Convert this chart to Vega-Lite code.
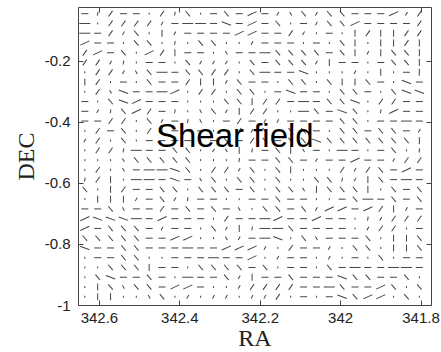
{
"$schema":"https://vega.github.io/schema/vega-lite/v6.json",
"width":353,"height":298,
"autosize":{"type":"none"},
"padding":{"left":78,"top":7,"right":10,"bottom":47},
"config":{"view":{"stroke":"#444","strokeWidth":1},"axis":{"grid":false,"domain":false,"tickColor":"#444","tickSize":-5,"labelFont":"Liberation Sans","labelFontSize":15,"labelColor":"#222","labelPadding":13,"titleFont":"Liberation Serif","titleFontSize":24,"titleFontWeight":"normal","titleColor":"#222"}},
"layer":[
{"data":{"values":[
{"ra":342.635,"dec":-0.045,"phi":0,"g":0.07},{"ra":342.603,"dec":-0.045,"phi":80,"g":0.04},{"ra":342.571,"dec":-0.045,"phi":55,"g":0.07},{"ra":342.539,"dec":-0.045,"phi":0,"g":0.07},{"ra":342.507,"dec":-0.045,"phi":0,"g":0.07},{"ra":342.475,"dec":-0.045,"phi":90,"g":0.02},{"ra":342.443,"dec":-0.045,"phi":55,"g":0.07},{"ra":342.411,"dec":-0.045,"phi":80,"g":0.04},{"ra":342.379,"dec":-0.045,"phi":130,"g":0.07},{"ra":342.347,"dec":-0.045,"phi":90,"g":0.02},{"ra":342.315,"dec":-0.045,"phi":0,"g":0.07},{"ra":342.283,"dec":-0.045,"phi":130,"g":0.07},{"ra":342.251,"dec":-0.045,"phi":0,"g":0.07},{"ra":342.219,"dec":-0.045,"phi":25,"g":0.1},{"ra":342.187,"dec":-0.045,"phi":0,"g":0.07},{"ra":342.155,"dec":-0.045,"phi":60,"g":0.04},{"ra":342.123,"dec":-0.045,"phi":120,"g":0.04},{"ra":342.091,"dec":-0.045,"phi":130,"g":0.07},{"ra":342.059,"dec":-0.045,"phi":60,"g":0.04},{"ra":342.027,"dec":-0.045,"phi":130,"g":0.07},{"ra":341.995,"dec":-0.045,"phi":130,"g":0.07},{"ra":341.963,"dec":-0.045,"phi":0,"g":0.07},{"ra":341.931,"dec":-0.045,"phi":0,"g":0.07},{"ra":341.899,"dec":-0.045,"phi":0,"g":0.07},{"ra":341.867,"dec":-0.045,"phi":25,"g":0.1},{"ra":341.835,"dec":-0.045,"phi":60,"g":0.04},{"ra":341.803,"dec":-0.045,"phi":55,"g":0.07},
{"ra":342.635,"dec":-0.077,"phi":0,"g":0.11},{"ra":342.603,"dec":-0.077,"phi":90,"g":0.02},{"ra":342.571,"dec":-0.077,"phi":55,"g":0.07},{"ra":342.539,"dec":-0.077,"phi":55,"g":0.07},{"ra":342.507,"dec":-0.077,"phi":55,"g":0.07},{"ra":342.475,"dec":-0.077,"phi":55,"g":0.07},{"ra":342.443,"dec":-0.077,"phi":60,"g":0.04},{"ra":342.411,"dec":-0.077,"phi":0,"g":0.07},{"ra":342.379,"dec":-0.077,"phi":0,"g":0.11},{"ra":342.347,"dec":-0.077,"phi":0,"g":0.11},{"ra":342.315,"dec":-0.077,"phi":0,"g":0.07},{"ra":342.283,"dec":-0.077,"phi":160,"g":0.1},{"ra":342.251,"dec":-0.077,"phi":0,"g":0.07},{"ra":342.219,"dec":-0.077,"phi":25,"g":0.1},{"ra":342.187,"dec":-0.077,"phi":0,"g":0.07},{"ra":342.155,"dec":-0.077,"phi":130,"g":0.07},{"ra":342.123,"dec":-0.077,"phi":90,"g":0.02},{"ra":342.091,"dec":-0.077,"phi":0,"g":0.07},{"ra":342.059,"dec":-0.077,"phi":60,"g":0.04},{"ra":342.027,"dec":-0.077,"phi":130,"g":0.07},{"ra":341.995,"dec":-0.077,"phi":130,"g":0.07},{"ra":341.963,"dec":-0.077,"phi":25,"g":0.1},{"ra":341.931,"dec":-0.077,"phi":0,"g":0.07},{"ra":341.899,"dec":-0.077,"phi":0,"g":0.07},{"ra":341.867,"dec":-0.077,"phi":0,"g":0.07},{"ra":341.835,"dec":-0.077,"phi":0,"g":0.07},{"ra":341.803,"dec":-0.077,"phi":55,"g":0.07},
{"ra":342.635,"dec":-0.109,"phi":0,"g":0.11},{"ra":342.603,"dec":-0.109,"phi":0,"g":0.07},{"ra":342.571,"dec":-0.109,"phi":55,"g":0.07},{"ra":342.539,"dec":-0.109,"phi":60,"g":0.04},{"ra":342.507,"dec":-0.109,"phi":130,"g":0.07},{"ra":342.475,"dec":-0.109,"phi":90,"g":0.02},{"ra":342.443,"dec":-0.109,"phi":90,"g":0.07},{"ra":342.411,"dec":-0.109,"phi":60,"g":0.04},{"ra":342.379,"dec":-0.109,"phi":0,"g":0.07},{"ra":342.347,"dec":-0.109,"phi":0,"g":0.07},{"ra":342.315,"dec":-0.109,"phi":0,"g":0.07},{"ra":342.283,"dec":-0.109,"phi":0,"g":0.07},{"ra":342.251,"dec":-0.109,"phi":25,"g":0.1},{"ra":342.219,"dec":-0.109,"phi":25,"g":0.1},{"ra":342.187,"dec":-0.109,"phi":0,"g":0.07},{"ra":342.155,"dec":-0.109,"phi":0,"g":0.07},{"ra":342.123,"dec":-0.109,"phi":55,"g":0.07},{"ra":342.091,"dec":-0.109,"phi":60,"g":0.04},{"ra":342.059,"dec":-0.109,"phi":90,"g":0.02},{"ra":342.027,"dec":-0.109,"phi":0,"g":0.07},{"ra":341.995,"dec":-0.109,"phi":90,"g":0.02},{"ra":341.963,"dec":-0.109,"phi":90,"g":0.07},{"ra":341.931,"dec":-0.109,"phi":55,"g":0.07},{"ra":341.899,"dec":-0.109,"phi":90,"g":0.07},{"ra":341.867,"dec":-0.109,"phi":90,"g":0.07},{"ra":341.835,"dec":-0.109,"phi":55,"g":0.07},{"ra":341.803,"dec":-0.109,"phi":55,"g":0.07},
{"ra":342.635,"dec":-0.141,"phi":25,"g":0.1},{"ra":342.603,"dec":-0.141,"phi":0,"g":0.07},{"ra":342.571,"dec":-0.141,"phi":0,"g":0.07},{"ra":342.539,"dec":-0.141,"phi":90,"g":0.02},{"ra":342.507,"dec":-0.141,"phi":130,"g":0.07},{"ra":342.475,"dec":-0.141,"phi":130,"g":0.07},{"ra":342.443,"dec":-0.141,"phi":90,"g":0.02},{"ra":342.411,"dec":-0.141,"phi":80,"g":0.04},{"ra":342.379,"dec":-0.141,"phi":90,"g":0.02},{"ra":342.347,"dec":-0.141,"phi":130,"g":0.07},{"ra":342.315,"dec":-0.141,"phi":130,"g":0.07},{"ra":342.283,"dec":-0.141,"phi":90,"g":0.02},{"ra":342.251,"dec":-0.141,"phi":90,"g":0.02},{"ra":342.219,"dec":-0.141,"phi":60,"g":0.04},{"ra":342.187,"dec":-0.141,"phi":0,"g":0.07},{"ra":342.155,"dec":-0.141,"phi":0,"g":0.07},{"ra":342.123,"dec":-0.141,"phi":0,"g":0.07},{"ra":342.091,"dec":-0.141,"phi":90,"g":0.02},{"ra":342.059,"dec":-0.141,"phi":0,"g":0.07},{"ra":342.027,"dec":-0.141,"phi":90,"g":0.02},{"ra":341.995,"dec":-0.141,"phi":130,"g":0.07},{"ra":341.963,"dec":-0.141,"phi":90,"g":0.07},{"ra":341.931,"dec":-0.141,"phi":90,"g":0.02},{"ra":341.899,"dec":-0.141,"phi":90,"g":0.07},{"ra":341.867,"dec":-0.141,"phi":90,"g":0.07},{"ra":341.835,"dec":-0.141,"phi":55,"g":0.07},{"ra":341.803,"dec":-0.141,"phi":90,"g":0.07},
{"ra":342.635,"dec":-0.173,"phi":55,"g":0.07},{"ra":342.603,"dec":-0.173,"phi":25,"g":0.1},{"ra":342.571,"dec":-0.173,"phi":0,"g":0.07},{"ra":342.539,"dec":-0.173,"phi":130,"g":0.07},{"ra":342.507,"dec":-0.173,"phi":90,"g":0.02},{"ra":342.475,"dec":-0.173,"phi":25,"g":0.1},{"ra":342.443,"dec":-0.173,"phi":55,"g":0.07},{"ra":342.411,"dec":-0.173,"phi":90,"g":0.07},{"ra":342.379,"dec":-0.173,"phi":0,"g":0.07},{"ra":342.347,"dec":-0.173,"phi":0,"g":0.07},{"ra":342.315,"dec":-0.173,"phi":90,"g":0.02},{"ra":342.283,"dec":-0.173,"phi":120,"g":0.04},{"ra":342.251,"dec":-0.173,"phi":0,"g":0.07},{"ra":342.219,"dec":-0.173,"phi":0,"g":0.07},{"ra":342.187,"dec":-0.173,"phi":0,"g":0.11},{"ra":342.155,"dec":-0.173,"phi":130,"g":0.07},{"ra":342.123,"dec":-0.173,"phi":130,"g":0.07},{"ra":342.091,"dec":-0.173,"phi":130,"g":0.07},{"ra":342.059,"dec":-0.173,"phi":130,"g":0.07},{"ra":342.027,"dec":-0.173,"phi":0,"g":0.07},{"ra":341.995,"dec":-0.173,"phi":130,"g":0.07},{"ra":341.963,"dec":-0.173,"phi":90,"g":0.07},{"ra":341.931,"dec":-0.173,"phi":60,"g":0.04},{"ra":341.899,"dec":-0.173,"phi":90,"g":0.07},{"ra":341.867,"dec":-0.173,"phi":130,"g":0.07},{"ra":341.835,"dec":-0.173,"phi":130,"g":0.07},{"ra":341.803,"dec":-0.173,"phi":90,"g":0.07},
{"ra":342.635,"dec":-0.205,"phi":55,"g":0.07},{"ra":342.603,"dec":-0.205,"phi":55,"g":0.07},{"ra":342.571,"dec":-0.205,"phi":60,"g":0.04},{"ra":342.539,"dec":-0.205,"phi":80,"g":0.04},{"ra":342.507,"dec":-0.205,"phi":90,"g":0.02},{"ra":342.475,"dec":-0.205,"phi":0,"g":0.07},{"ra":342.443,"dec":-0.205,"phi":0,"g":0.07},{"ra":342.411,"dec":-0.205,"phi":90,"g":0.02},{"ra":342.379,"dec":-0.205,"phi":130,"g":0.07},{"ra":342.347,"dec":-0.205,"phi":60,"g":0.04},{"ra":342.315,"dec":-0.205,"phi":60,"g":0.04},{"ra":342.283,"dec":-0.205,"phi":60,"g":0.04},{"ra":342.251,"dec":-0.205,"phi":90,"g":0.02},{"ra":342.219,"dec":-0.205,"phi":130,"g":0.07},{"ra":342.187,"dec":-0.205,"phi":0,"g":0.07},{"ra":342.155,"dec":-0.205,"phi":130,"g":0.07},{"ra":342.123,"dec":-0.205,"phi":130,"g":0.07},{"ra":342.091,"dec":-0.205,"phi":130,"g":0.07},{"ra":342.059,"dec":-0.205,"phi":60,"g":0.04},{"ra":342.027,"dec":-0.205,"phi":90,"g":0.07},{"ra":341.995,"dec":-0.205,"phi":0,"g":0.07},{"ra":341.963,"dec":-0.205,"phi":0,"g":0.07},{"ra":341.931,"dec":-0.205,"phi":90,"g":0.02},{"ra":341.899,"dec":-0.205,"phi":0,"g":0.07},{"ra":341.867,"dec":-0.205,"phi":130,"g":0.07},{"ra":341.835,"dec":-0.205,"phi":130,"g":0.07},{"ra":341.803,"dec":-0.205,"phi":90,"g":0.07},
{"ra":342.635,"dec":-0.237,"phi":90,"g":0.02},{"ra":342.603,"dec":-0.237,"phi":55,"g":0.07},{"ra":342.571,"dec":-0.237,"phi":55,"g":0.07},{"ra":342.539,"dec":-0.237,"phi":60,"g":0.04},{"ra":342.507,"dec":-0.237,"phi":120,"g":0.04},{"ra":342.475,"dec":-0.237,"phi":130,"g":0.07},{"ra":342.443,"dec":-0.237,"phi":0,"g":0.11},{"ra":342.411,"dec":-0.237,"phi":0,"g":0.07},{"ra":342.379,"dec":-0.237,"phi":130,"g":0.07},{"ra":342.347,"dec":-0.237,"phi":130,"g":0.07},{"ra":342.315,"dec":-0.237,"phi":55,"g":0.07},{"ra":342.283,"dec":-0.237,"phi":55,"g":0.07},{"ra":342.251,"dec":-0.237,"phi":90,"g":0.02},{"ra":342.219,"dec":-0.237,"phi":130,"g":0.07},{"ra":342.187,"dec":-0.237,"phi":0,"g":0.11},{"ra":342.155,"dec":-0.237,"phi":0,"g":0.07},{"ra":342.123,"dec":-0.237,"phi":0,"g":0.07},{"ra":342.091,"dec":-0.237,"phi":160,"g":0.1},{"ra":342.059,"dec":-0.237,"phi":90,"g":0.02},{"ra":342.027,"dec":-0.237,"phi":90,"g":0.02},{"ra":341.995,"dec":-0.237,"phi":90,"g":0.02},{"ra":341.963,"dec":-0.237,"phi":60,"g":0.04},{"ra":341.931,"dec":-0.237,"phi":90,"g":0.02},{"ra":341.899,"dec":-0.237,"phi":90,"g":0.07},{"ra":341.867,"dec":-0.237,"phi":90,"g":0.02},{"ra":341.835,"dec":-0.237,"phi":0,"g":0.07},{"ra":341.803,"dec":-0.237,"phi":90,"g":0.07},
{"ra":342.635,"dec":-0.269,"phi":90,"g":0.07},{"ra":342.603,"dec":-0.269,"phi":55,"g":0.07},{"ra":342.571,"dec":-0.269,"phi":90,"g":0.02},{"ra":342.539,"dec":-0.269,"phi":0,"g":0.07},{"ra":342.507,"dec":-0.269,"phi":90,"g":0.02},{"ra":342.475,"dec":-0.269,"phi":130,"g":0.07},{"ra":342.443,"dec":-0.269,"phi":0,"g":0.07},{"ra":342.411,"dec":-0.269,"phi":0,"g":0.07},{"ra":342.379,"dec":-0.269,"phi":55,"g":0.07},{"ra":342.347,"dec":-0.269,"phi":90,"g":0.07},{"ra":342.315,"dec":-0.269,"phi":90,"g":0.07},{"ra":342.283,"dec":-0.269,"phi":60,"g":0.04},{"ra":342.251,"dec":-0.269,"phi":130,"g":0.07},{"ra":342.219,"dec":-0.269,"phi":0,"g":0.07},{"ra":342.187,"dec":-0.269,"phi":0,"g":0.07},{"ra":342.155,"dec":-0.269,"phi":90,"g":0.02},{"ra":342.123,"dec":-0.269,"phi":130,"g":0.07},{"ra":342.091,"dec":-0.269,"phi":130,"g":0.07},{"ra":342.059,"dec":-0.269,"phi":90,"g":0.02},{"ra":342.027,"dec":-0.269,"phi":130,"g":0.07},{"ra":341.995,"dec":-0.269,"phi":90,"g":0.07},{"ra":341.963,"dec":-0.269,"phi":90,"g":0.07},{"ra":341.931,"dec":-0.269,"phi":130,"g":0.07},{"ra":341.899,"dec":-0.269,"phi":0,"g":0.07},{"ra":341.867,"dec":-0.269,"phi":90,"g":0.02},{"ra":341.835,"dec":-0.269,"phi":160,"g":0.1},{"ra":341.803,"dec":-0.269,"phi":0,"g":0.07},
{"ra":342.635,"dec":-0.301,"phi":90,"g":0.02},{"ra":342.603,"dec":-0.301,"phi":55,"g":0.07},{"ra":342.571,"dec":-0.301,"phi":120,"g":0.04},{"ra":342.539,"dec":-0.301,"phi":160,"g":0.1},{"ra":342.507,"dec":-0.301,"phi":0,"g":0.07},{"ra":342.475,"dec":-0.301,"phi":0,"g":0.07},{"ra":342.443,"dec":-0.301,"phi":0,"g":0.11},{"ra":342.411,"dec":-0.301,"phi":25,"g":0.1},{"ra":342.379,"dec":-0.301,"phi":90,"g":0.02},{"ra":342.347,"dec":-0.301,"phi":55,"g":0.07},{"ra":342.315,"dec":-0.301,"phi":55,"g":0.07},{"ra":342.283,"dec":-0.301,"phi":90,"g":0.02},{"ra":342.251,"dec":-0.301,"phi":130,"g":0.07},{"ra":342.219,"dec":-0.301,"phi":130,"g":0.07},{"ra":342.187,"dec":-0.301,"phi":90,"g":0.02},{"ra":342.155,"dec":-0.301,"phi":0,"g":0.07},{"ra":342.123,"dec":-0.301,"phi":160,"g":0.1},{"ra":342.091,"dec":-0.301,"phi":0,"g":0.07},{"ra":342.059,"dec":-0.301,"phi":0,"g":0.07},{"ra":342.027,"dec":-0.301,"phi":90,"g":0.02},{"ra":341.995,"dec":-0.301,"phi":130,"g":0.07},{"ra":341.963,"dec":-0.301,"phi":130,"g":0.07},{"ra":341.931,"dec":-0.301,"phi":0,"g":0.07},{"ra":341.899,"dec":-0.301,"phi":90,"g":0.02},{"ra":341.867,"dec":-0.301,"phi":130,"g":0.07},{"ra":341.835,"dec":-0.301,"phi":160,"g":0.1},{"ra":341.803,"dec":-0.301,"phi":160,"g":0.1},
{"ra":342.635,"dec":-0.333,"phi":0,"g":0.07},{"ra":342.603,"dec":-0.333,"phi":90,"g":0.02},{"ra":342.571,"dec":-0.333,"phi":130,"g":0.07},{"ra":342.539,"dec":-0.333,"phi":160,"g":0.1},{"ra":342.507,"dec":-0.333,"phi":25,"g":0.1},{"ra":342.475,"dec":-0.333,"phi":0,"g":0.07},{"ra":342.443,"dec":-0.333,"phi":0,"g":0.07},{"ra":342.411,"dec":-0.333,"phi":0,"g":0.07},{"ra":342.379,"dec":-0.333,"phi":90,"g":0.02},{"ra":342.347,"dec":-0.333,"phi":90,"g":0.02},{"ra":342.315,"dec":-0.333,"phi":90,"g":0.02},{"ra":342.283,"dec":-0.333,"phi":130,"g":0.07},{"ra":342.251,"dec":-0.333,"phi":130,"g":0.07},{"ra":342.219,"dec":-0.333,"phi":90,"g":0.07},{"ra":342.187,"dec":-0.333,"phi":55,"g":0.07},{"ra":342.155,"dec":-0.333,"phi":55,"g":0.07},{"ra":342.123,"dec":-0.333,"phi":0,"g":0.07},{"ra":342.091,"dec":-0.333,"phi":0,"g":0.11},{"ra":342.059,"dec":-0.333,"phi":0,"g":0.07},{"ra":342.027,"dec":-0.333,"phi":130,"g":0.07},{"ra":341.995,"dec":-0.333,"phi":130,"g":0.07},{"ra":341.963,"dec":-0.333,"phi":160,"g":0.1},{"ra":341.931,"dec":-0.333,"phi":90,"g":0.02},{"ra":341.899,"dec":-0.333,"phi":55,"g":0.07},{"ra":341.867,"dec":-0.333,"phi":55,"g":0.07},{"ra":341.835,"dec":-0.333,"phi":0,"g":0.07},{"ra":341.803,"dec":-0.333,"phi":0,"g":0.07},
{"ra":342.635,"dec":-0.365,"phi":0,"g":0.07},{"ra":342.603,"dec":-0.365,"phi":60,"g":0.04},{"ra":342.571,"dec":-0.365,"phi":80,"g":0.04},{"ra":342.539,"dec":-0.365,"phi":130,"g":0.07},{"ra":342.507,"dec":-0.365,"phi":25,"g":0.1},{"ra":342.475,"dec":-0.365,"phi":55,"g":0.07},{"ra":342.443,"dec":-0.365,"phi":0,"g":0.07},{"ra":342.411,"dec":-0.365,"phi":80,"g":0.04},{"ra":342.379,"dec":-0.365,"phi":90,"g":0.02},{"ra":342.347,"dec":-0.365,"phi":120,"g":0.04},{"ra":342.315,"dec":-0.365,"phi":130,"g":0.07},{"ra":342.283,"dec":-0.365,"phi":60,"g":0.04},{"ra":342.251,"dec":-0.365,"phi":90,"g":0.07},{"ra":342.219,"dec":-0.365,"phi":55,"g":0.07},{"ra":342.187,"dec":-0.365,"phi":55,"g":0.07},{"ra":342.155,"dec":-0.365,"phi":90,"g":0.02},{"ra":342.123,"dec":-0.365,"phi":90,"g":0.02},{"ra":342.091,"dec":-0.365,"phi":0,"g":0.11},{"ra":342.059,"dec":-0.365,"phi":130,"g":0.07},{"ra":342.027,"dec":-0.365,"phi":0,"g":0.07},{"ra":341.995,"dec":-0.365,"phi":160,"g":0.1},{"ra":341.963,"dec":-0.365,"phi":130,"g":0.07},{"ra":341.931,"dec":-0.365,"phi":90,"g":0.02},{"ra":341.899,"dec":-0.365,"phi":80,"g":0.04},{"ra":341.867,"dec":-0.365,"phi":25,"g":0.1},{"ra":341.835,"dec":-0.365,"phi":0,"g":0.07},{"ra":341.803,"dec":-0.365,"phi":0,"g":0.07},
{"ra":342.635,"dec":-0.397,"phi":0,"g":0.07},{"ra":342.603,"dec":-0.397,"phi":0,"g":0.07},{"ra":342.571,"dec":-0.397,"phi":55,"g":0.07},{"ra":342.539,"dec":-0.397,"phi":55,"g":0.07},{"ra":342.507,"dec":-0.397,"phi":90,"g":0.02},{"ra":342.475,"dec":-0.397,"phi":130,"g":0.07},{"ra":342.443,"dec":-0.397,"phi":60,"g":0.04},{"ra":342.411,"dec":-0.397,"phi":0,"g":0.07},{"ra":342.379,"dec":-0.397,"phi":80,"g":0.04},{"ra":342.347,"dec":-0.397,"phi":120,"g":0.04},{"ra":342.315,"dec":-0.397,"phi":90,"g":0.02},{"ra":342.283,"dec":-0.397,"phi":0,"g":0.07},{"ra":342.251,"dec":-0.397,"phi":55,"g":0.07},{"ra":342.219,"dec":-0.397,"phi":0,"g":0.07},{"ra":342.187,"dec":-0.397,"phi":60,"g":0.04},{"ra":342.155,"dec":-0.397,"phi":60,"g":0.04},{"ra":342.123,"dec":-0.397,"phi":0,"g":0.07},{"ra":342.091,"dec":-0.397,"phi":0,"g":0.07},{"ra":342.059,"dec":-0.397,"phi":0,"g":0.07},{"ra":342.027,"dec":-0.397,"phi":0,"g":0.07},{"ra":341.995,"dec":-0.397,"phi":130,"g":0.07},{"ra":341.963,"dec":-0.397,"phi":130,"g":0.07},{"ra":341.931,"dec":-0.397,"phi":90,"g":0.02},{"ra":341.899,"dec":-0.397,"phi":0,"g":0.07},{"ra":341.867,"dec":-0.397,"phi":0,"g":0.07},{"ra":341.835,"dec":-0.397,"phi":0,"g":0.11},{"ra":341.803,"dec":-0.397,"phi":0,"g":0.07},
{"ra":342.635,"dec":-0.429,"phi":90,"g":0.02},{"ra":342.603,"dec":-0.429,"phi":55,"g":0.07},{"ra":342.571,"dec":-0.429,"phi":0,"g":0.07},{"ra":342.539,"dec":-0.429,"phi":130,"g":0.07},{"ra":342.507,"dec":-0.429,"phi":90,"g":0.02},{"ra":342.475,"dec":-0.429,"phi":55,"g":0.07},{"ra":342.443,"dec":-0.429,"phi":90,"g":0.07},{"ra":342.411,"dec":-0.429,"phi":0,"g":0.07},{"ra":342.379,"dec":-0.429,"phi":0,"g":0.07},{"ra":342.347,"dec":-0.429,"phi":0,"g":0.07},{"ra":342.315,"dec":-0.429,"phi":90,"g":0.02},{"ra":342.283,"dec":-0.429,"phi":0,"g":0.07},{"ra":342.251,"dec":-0.429,"phi":55,"g":0.07},{"ra":342.219,"dec":-0.429,"phi":60,"g":0.04},{"ra":342.187,"dec":-0.429,"phi":130,"g":0.07},{"ra":342.155,"dec":-0.429,"phi":0,"g":0.07},{"ra":342.123,"dec":-0.429,"phi":130,"g":0.07},{"ra":342.091,"dec":-0.429,"phi":130,"g":0.07},{"ra":342.059,"dec":-0.429,"phi":0,"g":0.07},{"ra":342.027,"dec":-0.429,"phi":90,"g":0.02},{"ra":341.995,"dec":-0.429,"phi":130,"g":0.07},{"ra":341.963,"dec":-0.429,"phi":130,"g":0.07},{"ra":341.931,"dec":-0.429,"phi":0,"g":0.07},{"ra":341.899,"dec":-0.429,"phi":130,"g":0.07},{"ra":341.867,"dec":-0.429,"phi":130,"g":0.07},{"ra":341.835,"dec":-0.429,"phi":0,"g":0.07},{"ra":341.803,"dec":-0.429,"phi":60,"g":0.04},
{"ra":342.635,"dec":-0.461,"phi":60,"g":0.04},{"ra":342.603,"dec":-0.461,"phi":55,"g":0.07},{"ra":342.571,"dec":-0.461,"phi":90,"g":0.02},{"ra":342.539,"dec":-0.461,"phi":130,"g":0.07},{"ra":342.507,"dec":-0.461,"phi":90,"g":0.02},{"ra":342.475,"dec":-0.461,"phi":0,"g":0.07},{"ra":342.443,"dec":-0.461,"phi":0,"g":0.07},{"ra":342.411,"dec":-0.461,"phi":0,"g":0.07},{"ra":342.379,"dec":-0.461,"phi":0,"g":0.07},{"ra":342.347,"dec":-0.461,"phi":90,"g":0.02},{"ra":342.315,"dec":-0.461,"phi":0,"g":0.07},{"ra":342.283,"dec":-0.461,"phi":130,"g":0.07},{"ra":342.251,"dec":-0.461,"phi":0,"g":0.07},{"ra":342.219,"dec":-0.461,"phi":55,"g":0.07},{"ra":342.187,"dec":-0.461,"phi":130,"g":0.07},{"ra":342.155,"dec":-0.461,"phi":0,"g":0.07},{"ra":342.123,"dec":-0.461,"phi":130,"g":0.07},{"ra":342.091,"dec":-0.461,"phi":130,"g":0.07},{"ra":342.059,"dec":-0.461,"phi":160,"g":0.1},{"ra":342.027,"dec":-0.461,"phi":130,"g":0.07},{"ra":341.995,"dec":-0.461,"phi":130,"g":0.07},{"ra":341.963,"dec":-0.461,"phi":130,"g":0.07},{"ra":341.931,"dec":-0.461,"phi":130,"g":0.07},{"ra":341.899,"dec":-0.461,"phi":130,"g":0.07},{"ra":341.867,"dec":-0.461,"phi":130,"g":0.07},{"ra":341.835,"dec":-0.461,"phi":130,"g":0.07},{"ra":341.803,"dec":-0.461,"phi":90,"g":0.07},
{"ra":342.635,"dec":-0.493,"phi":90,"g":0.02},{"ra":342.603,"dec":-0.493,"phi":55,"g":0.07},{"ra":342.571,"dec":-0.493,"phi":55,"g":0.07},{"ra":342.539,"dec":-0.493,"phi":80,"g":0.04},{"ra":342.507,"dec":-0.493,"phi":0,"g":0.11},{"ra":342.475,"dec":-0.493,"phi":0,"g":0.07},{"ra":342.443,"dec":-0.493,"phi":0,"g":0.07},{"ra":342.411,"dec":-0.493,"phi":130,"g":0.07},{"ra":342.379,"dec":-0.493,"phi":130,"g":0.07},{"ra":342.347,"dec":-0.493,"phi":90,"g":0.02},{"ra":342.315,"dec":-0.493,"phi":60,"g":0.04},{"ra":342.283,"dec":-0.493,"phi":120,"g":0.04},{"ra":342.251,"dec":-0.493,"phi":90,"g":0.07},{"ra":342.219,"dec":-0.493,"phi":80,"g":0.04},{"ra":342.187,"dec":-0.493,"phi":0,"g":0.07},{"ra":342.155,"dec":-0.493,"phi":130,"g":0.07},{"ra":342.123,"dec":-0.493,"phi":90,"g":0.07},{"ra":342.091,"dec":-0.493,"phi":120,"g":0.04},{"ra":342.059,"dec":-0.493,"phi":0,"g":0.07},{"ra":342.027,"dec":-0.493,"phi":90,"g":0.02},{"ra":341.995,"dec":-0.493,"phi":0,"g":0.11},{"ra":341.963,"dec":-0.493,"phi":0,"g":0.07},{"ra":341.931,"dec":-0.493,"phi":90,"g":0.02},{"ra":341.899,"dec":-0.493,"phi":0,"g":0.07},{"ra":341.867,"dec":-0.493,"phi":130,"g":0.07},{"ra":341.835,"dec":-0.493,"phi":90,"g":0.02},{"ra":341.803,"dec":-0.493,"phi":80,"g":0.04},
{"ra":342.635,"dec":-0.525,"phi":90,"g":0.02},{"ra":342.603,"dec":-0.525,"phi":90,"g":0.02},{"ra":342.571,"dec":-0.525,"phi":90,"g":0.02},{"ra":342.539,"dec":-0.525,"phi":120,"g":0.04},{"ra":342.507,"dec":-0.525,"phi":130,"g":0.07},{"ra":342.475,"dec":-0.525,"phi":130,"g":0.07},{"ra":342.443,"dec":-0.525,"phi":130,"g":0.07},{"ra":342.411,"dec":-0.525,"phi":130,"g":0.07},{"ra":342.379,"dec":-0.525,"phi":130,"g":0.07},{"ra":342.347,"dec":-0.525,"phi":90,"g":0.02},{"ra":342.315,"dec":-0.525,"phi":90,"g":0.02},{"ra":342.283,"dec":-0.525,"phi":90,"g":0.02},{"ra":342.251,"dec":-0.525,"phi":80,"g":0.04},{"ra":342.219,"dec":-0.525,"phi":0,"g":0.07},{"ra":342.187,"dec":-0.525,"phi":0,"g":0.07},{"ra":342.155,"dec":-0.525,"phi":130,"g":0.07},{"ra":342.123,"dec":-0.525,"phi":130,"g":0.07},{"ra":342.091,"dec":-0.525,"phi":0,"g":0.07},{"ra":342.059,"dec":-0.525,"phi":60,"g":0.04},{"ra":342.027,"dec":-0.525,"phi":0,"g":0.07},{"ra":341.995,"dec":-0.525,"phi":0,"g":0.07},{"ra":341.963,"dec":-0.525,"phi":25,"g":0.1},{"ra":341.931,"dec":-0.525,"phi":0,"g":0.07},{"ra":341.899,"dec":-0.525,"phi":0,"g":0.07},{"ra":341.867,"dec":-0.525,"phi":60,"g":0.04},{"ra":341.835,"dec":-0.525,"phi":55,"g":0.07},{"ra":341.803,"dec":-0.525,"phi":55,"g":0.07},
{"ra":342.635,"dec":-0.557,"phi":90,"g":0.02},{"ra":342.603,"dec":-0.557,"phi":55,"g":0.07},{"ra":342.571,"dec":-0.557,"phi":90,"g":0.02},{"ra":342.539,"dec":-0.557,"phi":120,"g":0.04},{"ra":342.507,"dec":-0.557,"phi":0,"g":0.07},{"ra":342.475,"dec":-0.557,"phi":0,"g":0.11},{"ra":342.443,"dec":-0.557,"phi":0,"g":0.11},{"ra":342.411,"dec":-0.557,"phi":160,"g":0.1},{"ra":342.379,"dec":-0.557,"phi":130,"g":0.07},{"ra":342.347,"dec":-0.557,"phi":90,"g":0.02},{"ra":342.315,"dec":-0.557,"phi":55,"g":0.07},{"ra":342.283,"dec":-0.557,"phi":55,"g":0.07},{"ra":342.251,"dec":-0.557,"phi":60,"g":0.04},{"ra":342.219,"dec":-0.557,"phi":130,"g":0.07},{"ra":342.187,"dec":-0.557,"phi":90,"g":0.02},{"ra":342.155,"dec":-0.557,"phi":130,"g":0.07},{"ra":342.123,"dec":-0.557,"phi":90,"g":0.07},{"ra":342.091,"dec":-0.557,"phi":90,"g":0.02},{"ra":342.059,"dec":-0.557,"phi":90,"g":0.02},{"ra":342.027,"dec":-0.557,"phi":90,"g":0.02},{"ra":341.995,"dec":-0.557,"phi":55,"g":0.07},{"ra":341.963,"dec":-0.557,"phi":60,"g":0.04},{"ra":341.931,"dec":-0.557,"phi":55,"g":0.07},{"ra":341.899,"dec":-0.557,"phi":130,"g":0.07},{"ra":341.867,"dec":-0.557,"phi":0,"g":0.07},{"ra":341.835,"dec":-0.557,"phi":25,"g":0.1},{"ra":341.803,"dec":-0.557,"phi":0,"g":0.07},
{"ra":342.635,"dec":-0.589,"phi":80,"g":0.04},{"ra":342.603,"dec":-0.589,"phi":55,"g":0.07},{"ra":342.571,"dec":-0.589,"phi":90,"g":0.07},{"ra":342.539,"dec":-0.589,"phi":90,"g":0.02},{"ra":342.507,"dec":-0.589,"phi":0,"g":0.11},{"ra":342.475,"dec":-0.589,"phi":0,"g":0.11},{"ra":342.443,"dec":-0.589,"phi":0,"g":0.07},{"ra":342.411,"dec":-0.589,"phi":160,"g":0.1},{"ra":342.379,"dec":-0.589,"phi":0,"g":0.07},{"ra":342.347,"dec":-0.589,"phi":120,"g":0.04},{"ra":342.315,"dec":-0.589,"phi":130,"g":0.07},{"ra":342.283,"dec":-0.589,"phi":90,"g":0.02},{"ra":342.251,"dec":-0.589,"phi":130,"g":0.07},{"ra":342.219,"dec":-0.589,"phi":130,"g":0.07},{"ra":342.187,"dec":-0.589,"phi":90,"g":0.02},{"ra":342.155,"dec":-0.589,"phi":130,"g":0.07},{"ra":342.123,"dec":-0.589,"phi":90,"g":0.02},{"ra":342.091,"dec":-0.589,"phi":90,"g":0.02},{"ra":342.059,"dec":-0.589,"phi":130,"g":0.07},{"ra":342.027,"dec":-0.589,"phi":130,"g":0.07},{"ra":341.995,"dec":-0.589,"phi":80,"g":0.04},{"ra":341.963,"dec":-0.589,"phi":60,"g":0.04},{"ra":341.931,"dec":-0.589,"phi":90,"g":0.07},{"ra":341.899,"dec":-0.589,"phi":130,"g":0.07},{"ra":341.867,"dec":-0.589,"phi":0,"g":0.07},{"ra":341.835,"dec":-0.589,"phi":0,"g":0.11},{"ra":341.803,"dec":-0.589,"phi":0,"g":0.07},
{"ra":342.635,"dec":-0.621,"phi":130,"g":0.07},{"ra":342.603,"dec":-0.621,"phi":90,"g":0.02},{"ra":342.571,"dec":-0.621,"phi":90,"g":0.07},{"ra":342.539,"dec":-0.621,"phi":55,"g":0.07},{"ra":342.507,"dec":-0.621,"phi":0,"g":0.07},{"ra":342.475,"dec":-0.621,"phi":0,"g":0.07},{"ra":342.443,"dec":-0.621,"phi":130,"g":0.07},{"ra":342.411,"dec":-0.621,"phi":130,"g":0.07},{"ra":342.379,"dec":-0.621,"phi":90,"g":0.02},{"ra":342.347,"dec":-0.621,"phi":130,"g":0.07},{"ra":342.315,"dec":-0.621,"phi":130,"g":0.07},{"ra":342.283,"dec":-0.621,"phi":130,"g":0.07},{"ra":342.251,"dec":-0.621,"phi":0,"g":0.07},{"ra":342.219,"dec":-0.621,"phi":130,"g":0.07},{"ra":342.187,"dec":-0.621,"phi":90,"g":0.02},{"ra":342.155,"dec":-0.621,"phi":130,"g":0.07},{"ra":342.123,"dec":-0.621,"phi":130,"g":0.07},{"ra":342.091,"dec":-0.621,"phi":120,"g":0.04},{"ra":342.059,"dec":-0.621,"phi":90,"g":0.07},{"ra":342.027,"dec":-0.621,"phi":130,"g":0.07},{"ra":341.995,"dec":-0.621,"phi":130,"g":0.07},{"ra":341.963,"dec":-0.621,"phi":130,"g":0.07},{"ra":341.931,"dec":-0.621,"phi":90,"g":0.07},{"ra":341.899,"dec":-0.621,"phi":90,"g":0.02},{"ra":341.867,"dec":-0.621,"phi":130,"g":0.07},{"ra":341.835,"dec":-0.621,"phi":0,"g":0.07},{"ra":341.803,"dec":-0.621,"phi":130,"g":0.07},
{"ra":342.635,"dec":-0.653,"phi":90,"g":0.02},{"ra":342.603,"dec":-0.653,"phi":90,"g":0.07},{"ra":342.571,"dec":-0.653,"phi":90,"g":0.07},{"ra":342.539,"dec":-0.653,"phi":90,"g":0.07},{"ra":342.507,"dec":-0.653,"phi":60,"g":0.04},{"ra":342.475,"dec":-0.653,"phi":0,"g":0.07},{"ra":342.443,"dec":-0.653,"phi":130,"g":0.07},{"ra":342.411,"dec":-0.653,"phi":60,"g":0.04},{"ra":342.379,"dec":-0.653,"phi":80,"g":0.04},{"ra":342.347,"dec":-0.653,"phi":0,"g":0.07},{"ra":342.315,"dec":-0.653,"phi":0,"g":0.07},{"ra":342.283,"dec":-0.653,"phi":90,"g":0.02},{"ra":342.251,"dec":-0.653,"phi":90,"g":0.02},{"ra":342.219,"dec":-0.653,"phi":0,"g":0.07},{"ra":342.187,"dec":-0.653,"phi":0,"g":0.07},{"ra":342.155,"dec":-0.653,"phi":130,"g":0.07},{"ra":342.123,"dec":-0.653,"phi":0,"g":0.07},{"ra":342.091,"dec":-0.653,"phi":0,"g":0.07},{"ra":342.059,"dec":-0.653,"phi":90,"g":0.02},{"ra":342.027,"dec":-0.653,"phi":90,"g":0.02},{"ra":341.995,"dec":-0.653,"phi":0,"g":0.07},{"ra":341.963,"dec":-0.653,"phi":130,"g":0.07},{"ra":341.931,"dec":-0.653,"phi":0,"g":0.11},{"ra":341.899,"dec":-0.653,"phi":0,"g":0.07},{"ra":341.867,"dec":-0.653,"phi":130,"g":0.07},{"ra":341.835,"dec":-0.653,"phi":0,"g":0.07},{"ra":341.803,"dec":-0.653,"phi":130,"g":0.07},
{"ra":342.635,"dec":-0.685,"phi":0,"g":0.07},{"ra":342.603,"dec":-0.685,"phi":0,"g":0.07},{"ra":342.571,"dec":-0.685,"phi":130,"g":0.07},{"ra":342.539,"dec":-0.685,"phi":120,"g":0.04},{"ra":342.507,"dec":-0.685,"phi":0,"g":0.07},{"ra":342.475,"dec":-0.685,"phi":0,"g":0.07},{"ra":342.443,"dec":-0.685,"phi":55,"g":0.07},{"ra":342.411,"dec":-0.685,"phi":0,"g":0.07},{"ra":342.379,"dec":-0.685,"phi":130,"g":0.07},{"ra":342.347,"dec":-0.685,"phi":0,"g":0.07},{"ra":342.315,"dec":-0.685,"phi":130,"g":0.07},{"ra":342.283,"dec":-0.685,"phi":0,"g":0.07},{"ra":342.251,"dec":-0.685,"phi":120,"g":0.04},{"ra":342.219,"dec":-0.685,"phi":90,"g":0.02},{"ra":342.187,"dec":-0.685,"phi":130,"g":0.07},{"ra":342.155,"dec":-0.685,"phi":130,"g":0.07},{"ra":342.123,"dec":-0.685,"phi":0,"g":0.07},{"ra":342.091,"dec":-0.685,"phi":130,"g":0.07},{"ra":342.059,"dec":-0.685,"phi":60,"g":0.04},{"ra":342.027,"dec":-0.685,"phi":25,"g":0.1},{"ra":341.995,"dec":-0.685,"phi":25,"g":0.1},{"ra":341.963,"dec":-0.685,"phi":0,"g":0.07},{"ra":341.931,"dec":-0.685,"phi":25,"g":0.1},{"ra":341.899,"dec":-0.685,"phi":55,"g":0.07},{"ra":341.867,"dec":-0.685,"phi":90,"g":0.07},{"ra":341.835,"dec":-0.685,"phi":60,"g":0.04},{"ra":341.803,"dec":-0.685,"phi":0,"g":0.07},
{"ra":342.635,"dec":-0.717,"phi":25,"g":0.1},{"ra":342.603,"dec":-0.717,"phi":160,"g":0.1},{"ra":342.571,"dec":-0.717,"phi":160,"g":0.1},{"ra":342.539,"dec":-0.717,"phi":160,"g":0.1},{"ra":342.507,"dec":-0.717,"phi":0,"g":0.11},{"ra":342.475,"dec":-0.717,"phi":0,"g":0.07},{"ra":342.443,"dec":-0.717,"phi":25,"g":0.1},{"ra":342.411,"dec":-0.717,"phi":0,"g":0.07},{"ra":342.379,"dec":-0.717,"phi":0,"g":0.07},{"ra":342.347,"dec":-0.717,"phi":0,"g":0.07},{"ra":342.315,"dec":-0.717,"phi":90,"g":0.02},{"ra":342.283,"dec":-0.717,"phi":55,"g":0.07},{"ra":342.251,"dec":-0.717,"phi":0,"g":0.07},{"ra":342.219,"dec":-0.717,"phi":0,"g":0.07},{"ra":342.187,"dec":-0.717,"phi":0,"g":0.11},{"ra":342.155,"dec":-0.717,"phi":25,"g":0.1},{"ra":342.123,"dec":-0.717,"phi":0,"g":0.07},{"ra":342.091,"dec":-0.717,"phi":0,"g":0.07},{"ra":342.059,"dec":-0.717,"phi":25,"g":0.1},{"ra":342.027,"dec":-0.717,"phi":0,"g":0.07},{"ra":341.995,"dec":-0.717,"phi":0,"g":0.07},{"ra":341.963,"dec":-0.717,"phi":90,"g":0.02},{"ra":341.931,"dec":-0.717,"phi":80,"g":0.04},{"ra":341.899,"dec":-0.717,"phi":60,"g":0.04},{"ra":341.867,"dec":-0.717,"phi":55,"g":0.07},{"ra":341.835,"dec":-0.717,"phi":55,"g":0.07},{"ra":341.803,"dec":-0.717,"phi":55,"g":0.07},
{"ra":342.635,"dec":-0.749,"phi":25,"g":0.1},{"ra":342.603,"dec":-0.749,"phi":0,"g":0.07},{"ra":342.571,"dec":-0.749,"phi":130,"g":0.07},{"ra":342.539,"dec":-0.749,"phi":130,"g":0.07},{"ra":342.507,"dec":-0.749,"phi":130,"g":0.07},{"ra":342.475,"dec":-0.749,"phi":0,"g":0.07},{"ra":342.443,"dec":-0.749,"phi":60,"g":0.04},{"ra":342.411,"dec":-0.749,"phi":0,"g":0.07},{"ra":342.379,"dec":-0.749,"phi":0,"g":0.07},{"ra":342.347,"dec":-0.749,"phi":90,"g":0.02},{"ra":342.315,"dec":-0.749,"phi":130,"g":0.07},{"ra":342.283,"dec":-0.749,"phi":60,"g":0.04},{"ra":342.251,"dec":-0.749,"phi":90,"g":0.07},{"ra":342.219,"dec":-0.749,"phi":80,"g":0.04},{"ra":342.187,"dec":-0.749,"phi":0,"g":0.11},{"ra":342.155,"dec":-0.749,"phi":0,"g":0.11},{"ra":342.123,"dec":-0.749,"phi":130,"g":0.07},{"ra":342.091,"dec":-0.749,"phi":0,"g":0.07},{"ra":342.059,"dec":-0.749,"phi":0,"g":0.07},{"ra":342.027,"dec":-0.749,"phi":0,"g":0.07},{"ra":341.995,"dec":-0.749,"phi":0,"g":0.07},{"ra":341.963,"dec":-0.749,"phi":90,"g":0.02},{"ra":341.931,"dec":-0.749,"phi":60,"g":0.04},{"ra":341.899,"dec":-0.749,"phi":55,"g":0.07},{"ra":341.867,"dec":-0.749,"phi":55,"g":0.07},{"ra":341.835,"dec":-0.749,"phi":90,"g":0.02},{"ra":341.803,"dec":-0.749,"phi":0,"g":0.07},
{"ra":342.635,"dec":-0.781,"phi":130,"g":0.07},{"ra":342.603,"dec":-0.781,"phi":130,"g":0.07},{"ra":342.571,"dec":-0.781,"phi":130,"g":0.07},{"ra":342.539,"dec":-0.781,"phi":130,"g":0.07},{"ra":342.507,"dec":-0.781,"phi":130,"g":0.07},{"ra":342.475,"dec":-0.781,"phi":0,"g":0.07},{"ra":342.443,"dec":-0.781,"phi":0,"g":0.07},{"ra":342.411,"dec":-0.781,"phi":25,"g":0.1},{"ra":342.379,"dec":-0.781,"phi":25,"g":0.1},{"ra":342.347,"dec":-0.781,"phi":90,"g":0.02},{"ra":342.315,"dec":-0.781,"phi":90,"g":0.02},{"ra":342.283,"dec":-0.781,"phi":120,"g":0.04},{"ra":342.251,"dec":-0.781,"phi":60,"g":0.04},{"ra":342.219,"dec":-0.781,"phi":0,"g":0.07},{"ra":342.187,"dec":-0.781,"phi":0,"g":0.11},{"ra":342.155,"dec":-0.781,"phi":160,"g":0.1},{"ra":342.123,"dec":-0.781,"phi":90,"g":0.02},{"ra":342.091,"dec":-0.781,"phi":130,"g":0.07},{"ra":342.059,"dec":-0.781,"phi":120,"g":0.04},{"ra":342.027,"dec":-0.781,"phi":0,"g":0.07},{"ra":341.995,"dec":-0.781,"phi":0,"g":0.07},{"ra":341.963,"dec":-0.781,"phi":0,"g":0.07},{"ra":341.931,"dec":-0.781,"phi":130,"g":0.07},{"ra":341.899,"dec":-0.781,"phi":90,"g":0.02},{"ra":341.867,"dec":-0.781,"phi":90,"g":0.07},{"ra":341.835,"dec":-0.781,"phi":90,"g":0.07},{"ra":341.803,"dec":-0.781,"phi":130,"g":0.07},
{"ra":342.635,"dec":-0.813,"phi":160,"g":0.1},{"ra":342.603,"dec":-0.813,"phi":0,"g":0.07},{"ra":342.571,"dec":-0.813,"phi":0,"g":0.07},{"ra":342.539,"dec":-0.813,"phi":130,"g":0.07},{"ra":342.507,"dec":-0.813,"phi":130,"g":0.07},{"ra":342.475,"dec":-0.813,"phi":0,"g":0.07},{"ra":342.443,"dec":-0.813,"phi":0,"g":0.07},{"ra":342.411,"dec":-0.813,"phi":0,"g":0.07},{"ra":342.379,"dec":-0.813,"phi":0,"g":0.11},{"ra":342.347,"dec":-0.813,"phi":0,"g":0.07},{"ra":342.315,"dec":-0.813,"phi":0,"g":0.07},{"ra":342.283,"dec":-0.813,"phi":25,"g":0.1},{"ra":342.251,"dec":-0.813,"phi":25,"g":0.1},{"ra":342.219,"dec":-0.813,"phi":25,"g":0.1},{"ra":342.187,"dec":-0.813,"phi":60,"g":0.04},{"ra":342.155,"dec":-0.813,"phi":90,"g":0.02},{"ra":342.123,"dec":-0.813,"phi":55,"g":0.07},{"ra":342.091,"dec":-0.813,"phi":0,"g":0.07},{"ra":342.059,"dec":-0.813,"phi":0,"g":0.07},{"ra":342.027,"dec":-0.813,"phi":60,"g":0.04},{"ra":341.995,"dec":-0.813,"phi":90,"g":0.02},{"ra":341.963,"dec":-0.813,"phi":130,"g":0.07},{"ra":341.931,"dec":-0.813,"phi":130,"g":0.07},{"ra":341.899,"dec":-0.813,"phi":90,"g":0.02},{"ra":341.867,"dec":-0.813,"phi":90,"g":0.07},{"ra":341.835,"dec":-0.813,"phi":90,"g":0.07},{"ra":341.803,"dec":-0.813,"phi":130,"g":0.07},
{"ra":342.635,"dec":-0.845,"phi":90,"g":0.02},{"ra":342.603,"dec":-0.845,"phi":0,"g":0.07},{"ra":342.571,"dec":-0.845,"phi":0,"g":0.07},{"ra":342.539,"dec":-0.845,"phi":130,"g":0.07},{"ra":342.507,"dec":-0.845,"phi":130,"g":0.07},{"ra":342.475,"dec":-0.845,"phi":90,"g":0.02},{"ra":342.443,"dec":-0.845,"phi":90,"g":0.02},{"ra":342.411,"dec":-0.845,"phi":0,"g":0.07},{"ra":342.379,"dec":-0.845,"phi":0,"g":0.07},{"ra":342.347,"dec":-0.845,"phi":0,"g":0.07},{"ra":342.315,"dec":-0.845,"phi":0,"g":0.11},{"ra":342.283,"dec":-0.845,"phi":0,"g":0.07},{"ra":342.251,"dec":-0.845,"phi":0,"g":0.07},{"ra":342.219,"dec":-0.845,"phi":25,"g":0.1},{"ra":342.187,"dec":-0.845,"phi":90,"g":0.02},{"ra":342.155,"dec":-0.845,"phi":60,"g":0.04},{"ra":342.123,"dec":-0.845,"phi":0,"g":0.07},{"ra":342.091,"dec":-0.845,"phi":0,"g":0.07},{"ra":342.059,"dec":-0.845,"phi":90,"g":0.02},{"ra":342.027,"dec":-0.845,"phi":60,"g":0.04},{"ra":341.995,"dec":-0.845,"phi":90,"g":0.02},{"ra":341.963,"dec":-0.845,"phi":0,"g":0.07},{"ra":341.931,"dec":-0.845,"phi":90,"g":0.02},{"ra":341.899,"dec":-0.845,"phi":130,"g":0.07},{"ra":341.867,"dec":-0.845,"phi":90,"g":0.02},{"ra":341.835,"dec":-0.845,"phi":0,"g":0.07},{"ra":341.803,"dec":-0.845,"phi":0,"g":0.07},
{"ra":342.635,"dec":-0.877,"phi":90,"g":0.02},{"ra":342.603,"dec":-0.877,"phi":90,"g":0.02},{"ra":342.571,"dec":-0.877,"phi":130,"g":0.07},{"ra":342.539,"dec":-0.877,"phi":130,"g":0.07},{"ra":342.507,"dec":-0.877,"phi":130,"g":0.07},{"ra":342.475,"dec":-0.877,"phi":90,"g":0.07},{"ra":342.443,"dec":-0.877,"phi":0,"g":0.07},{"ra":342.411,"dec":-0.877,"phi":0,"g":0.07},{"ra":342.379,"dec":-0.877,"phi":90,"g":0.02},{"ra":342.347,"dec":-0.877,"phi":130,"g":0.07},{"ra":342.315,"dec":-0.877,"phi":130,"g":0.07},{"ra":342.283,"dec":-0.877,"phi":130,"g":0.07},{"ra":342.251,"dec":-0.877,"phi":130,"g":0.07},{"ra":342.219,"dec":-0.877,"phi":0,"g":0.07},{"ra":342.187,"dec":-0.877,"phi":130,"g":0.07},{"ra":342.155,"dec":-0.877,"phi":90,"g":0.02},{"ra":342.123,"dec":-0.877,"phi":0,"g":0.07},{"ra":342.091,"dec":-0.877,"phi":0,"g":0.07},{"ra":342.059,"dec":-0.877,"phi":90,"g":0.02},{"ra":342.027,"dec":-0.877,"phi":130,"g":0.07},{"ra":341.995,"dec":-0.877,"phi":0,"g":0.07},{"ra":341.963,"dec":-0.877,"phi":0,"g":0.11},{"ra":341.931,"dec":-0.877,"phi":0,"g":0.07},{"ra":341.899,"dec":-0.877,"phi":0,"g":0.07},{"ra":341.867,"dec":-0.877,"phi":0,"g":0.11},{"ra":341.835,"dec":-0.877,"phi":0,"g":0.11},{"ra":341.803,"dec":-0.877,"phi":0,"g":0.07},
{"ra":342.635,"dec":-0.909,"phi":90,"g":0.02},{"ra":342.603,"dec":-0.909,"phi":130,"g":0.07},{"ra":342.571,"dec":-0.909,"phi":160,"g":0.1},{"ra":342.539,"dec":-0.909,"phi":0,"g":0.07},{"ra":342.507,"dec":-0.909,"phi":0,"g":0.07},{"ra":342.475,"dec":-0.909,"phi":130,"g":0.07},{"ra":342.443,"dec":-0.909,"phi":0,"g":0.07},{"ra":342.411,"dec":-0.909,"phi":90,"g":0.02},{"ra":342.379,"dec":-0.909,"phi":0,"g":0.11},{"ra":342.347,"dec":-0.909,"phi":0,"g":0.07},{"ra":342.315,"dec":-0.909,"phi":0,"g":0.07},{"ra":342.283,"dec":-0.909,"phi":130,"g":0.07},{"ra":342.251,"dec":-0.909,"phi":60,"g":0.04},{"ra":342.219,"dec":-0.909,"phi":90,"g":0.07},{"ra":342.187,"dec":-0.909,"phi":0,"g":0.07},{"ra":342.155,"dec":-0.909,"phi":0,"g":0.07},{"ra":342.123,"dec":-0.909,"phi":130,"g":0.07},{"ra":342.091,"dec":-0.909,"phi":0,"g":0.07},{"ra":342.059,"dec":-0.909,"phi":0,"g":0.07},{"ra":342.027,"dec":-0.909,"phi":0,"g":0.07},{"ra":341.995,"dec":-0.909,"phi":160,"g":0.1},{"ra":341.963,"dec":-0.909,"phi":130,"g":0.07},{"ra":341.931,"dec":-0.909,"phi":130,"g":0.07},{"ra":341.899,"dec":-0.909,"phi":0,"g":0.07},{"ra":341.867,"dec":-0.909,"phi":0,"g":0.07},{"ra":341.835,"dec":-0.909,"phi":130,"g":0.07},{"ra":341.803,"dec":-0.909,"phi":90,"g":0.02},
{"ra":342.635,"dec":-0.941,"phi":90,"g":0.02},{"ra":342.603,"dec":-0.941,"phi":90,"g":0.07},{"ra":342.571,"dec":-0.941,"phi":130,"g":0.07},{"ra":342.539,"dec":-0.941,"phi":120,"g":0.04},{"ra":342.507,"dec":-0.941,"phi":130,"g":0.07},{"ra":342.475,"dec":-0.941,"phi":130,"g":0.07},{"ra":342.443,"dec":-0.941,"phi":0,"g":0.07},{"ra":342.411,"dec":-0.941,"phi":25,"g":0.1},{"ra":342.379,"dec":-0.941,"phi":25,"g":0.1},{"ra":342.347,"dec":-0.941,"phi":0,"g":0.07},{"ra":342.315,"dec":-0.941,"phi":90,"g":0.02},{"ra":342.283,"dec":-0.941,"phi":90,"g":0.02},{"ra":342.251,"dec":-0.941,"phi":60,"g":0.04},{"ra":342.219,"dec":-0.941,"phi":55,"g":0.07},{"ra":342.187,"dec":-0.941,"phi":55,"g":0.07},{"ra":342.155,"dec":-0.941,"phi":55,"g":0.07},{"ra":342.123,"dec":-0.941,"phi":55,"g":0.07},{"ra":342.091,"dec":-0.941,"phi":0,"g":0.07},{"ra":342.059,"dec":-0.941,"phi":0,"g":0.07},{"ra":342.027,"dec":-0.941,"phi":0,"g":0.11},{"ra":341.995,"dec":-0.941,"phi":130,"g":0.07},{"ra":341.963,"dec":-0.941,"phi":0,"g":0.07},{"ra":341.931,"dec":-0.941,"phi":0,"g":0.07},{"ra":341.899,"dec":-0.941,"phi":25,"g":0.1},{"ra":341.867,"dec":-0.941,"phi":130,"g":0.07},{"ra":341.835,"dec":-0.941,"phi":90,"g":0.02},{"ra":341.803,"dec":-0.941,"phi":130,"g":0.07},
{"ra":342.635,"dec":-0.973,"phi":90,"g":0.02},{"ra":342.603,"dec":-0.973,"phi":90,"g":0.07},{"ra":342.571,"dec":-0.973,"phi":90,"g":0.07},{"ra":342.539,"dec":-0.973,"phi":90,"g":0.02},{"ra":342.507,"dec":-0.973,"phi":90,"g":0.02},{"ra":342.475,"dec":-0.973,"phi":120,"g":0.04},{"ra":342.443,"dec":-0.973,"phi":130,"g":0.07},{"ra":342.411,"dec":-0.973,"phi":90,"g":0.02},{"ra":342.379,"dec":-0.973,"phi":60,"g":0.04},{"ra":342.347,"dec":-0.973,"phi":90,"g":0.02},{"ra":342.315,"dec":-0.973,"phi":60,"g":0.04},{"ra":342.283,"dec":-0.973,"phi":60,"g":0.04},{"ra":342.251,"dec":-0.973,"phi":90,"g":0.02},{"ra":342.219,"dec":-0.973,"phi":60,"g":0.04},{"ra":342.187,"dec":-0.973,"phi":60,"g":0.04},{"ra":342.155,"dec":-0.973,"phi":55,"g":0.07},{"ra":342.123,"dec":-0.973,"phi":90,"g":0.02},{"ra":342.091,"dec":-0.973,"phi":0,"g":0.07},{"ra":342.059,"dec":-0.973,"phi":90,"g":0.02},{"ra":342.027,"dec":-0.973,"phi":0,"g":0.07},{"ra":341.995,"dec":-0.973,"phi":160,"g":0.1},{"ra":341.963,"dec":-0.973,"phi":130,"g":0.07},{"ra":341.931,"dec":-0.973,"phi":25,"g":0.1},{"ra":341.899,"dec":-0.973,"phi":25,"g":0.1},{"ra":341.867,"dec":-0.973,"phi":90,"g":0.02},{"ra":341.835,"dec":-0.973,"phi":130,"g":0.07},{"ra":341.803,"dec":-0.973,"phi":90,"g":0.02}
]},
"mark":{"type":"point","shape":"M-1,0L1,0","filled":false,"stroke":"#444","strokeWidth":1,"opacity":1,"strokeCap":"butt"},
"encoding":{
"x":{"field":"ra","type":"quantitative","scale":{"domain":[341.774,342.652],"reverse":true,"nice":false,"zero":false},"axis":{"orient":"bottom","values":[342.6,342.4,342.2,342,341.8],"labelExpr":"''+datum.value","labelPadding":10,"title":"RA","titlePadding":1}},
"y":{"field":"dec","type":"quantitative","scale":{"domain":[-1,-0.023],"nice":false,"zero":false},"axis":{"orient":"left","values":[-1,-0.8,-0.6,-0.4,-0.2],"labelExpr":"''+datum.value","title":"DEC","titlePadding":6}},
"angle":{"field":"phi","type":"quantitative","scale":{"domain":[0,180],"range":[360,180]},"legend":null},
"size":{"field":"g","type":"quantitative","scale":{"type":"pow","exponent":2,"domain":[0,0.1],"range":[0,100]},"legend":null}
}},
{"data":{"values":[{"ra":342.262,"dec":-0.449,"label":"Shear field"}]},
"mark":{"type":"text","font":"Liberation Sans","fontSize":33,"color":"#000","align":"center","baseline":"middle"},
"encoding":{
"x":{"field":"ra","type":"quantitative","axis":{"orient":"top","values":[342.6,342.4,342.2,342,341.8],"labels":false,"title":null}},
"y":{"field":"dec","type":"quantitative","axis":{"orient":"right","values":[-1,-0.8,-0.6,-0.4,-0.2],"labels":false,"title":null}},
"text":{"field":"label"}
}}
],
"resolve":{"axis":{"x":"independent","y":"independent"}}
}
